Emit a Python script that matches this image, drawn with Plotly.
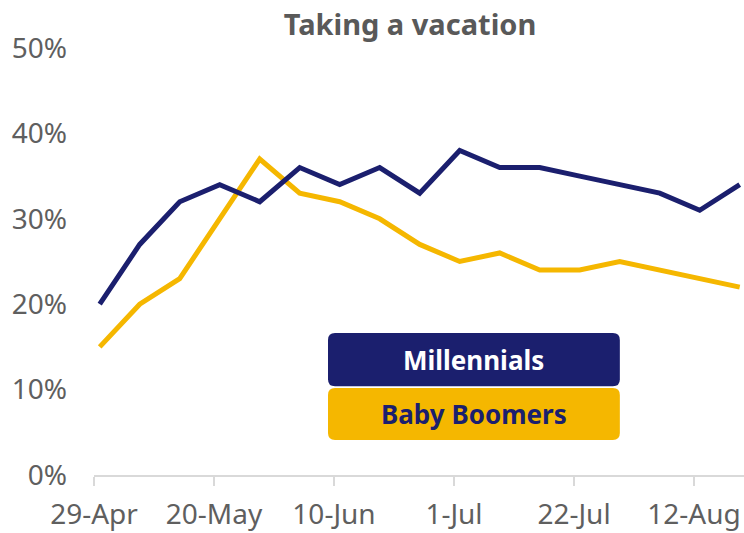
import plotly.graph_objects as go

dates = ["2020-04-30", "2020-05-07", "2020-05-14", "2020-05-21", "2020-05-28", "2020-06-04",
         "2020-06-11", "2020-06-18", "2020-06-25", "2020-07-02", "2020-07-09", "2020-07-16",
         "2020-07-23", "2020-07-30", "2020-08-06", "2020-08-13", "2020-08-20"]
millennials = [20, 27, 32, 34, 32, 36, 34, 36, 33, 38, 36, 36, 35, 34, 33, 31, 34]
boomers = [15, 20, 23, 30, 37, 33, 32, 30, 27, 25, 26, 24, 24, 25, 24, 23, 22]
tick_dates = ["2020-04-29", "2020-05-20", "2020-06-10", "2020-07-01", "2020-07-22", "2020-08-12"]
tick_labels = ["29-Apr", "20-May", "10-Jun", "1-Jul", "22-Jul", "12-Aug"]
y_ticks = [0, 10, 20, 30, 40, 50]
y_labels = [f"{v}%" for v in y_ticks]

NAVY = "#1b1f6e"
GOLD = "#f5b700"
GRAY = "#595959"
FONT = "Noto Sans"

fig = go.Figure()
fig.add_trace(go.Scatter(x=dates, y=boomers, mode="lines", name="Baby Boomers",
                         line=dict(color=GOLD, width=5), cliponaxis=False))
fig.add_trace(go.Scatter(x=dates, y=millennials, mode="lines", name="Millennials",
                         line=dict(color=NAVY, width=5), cliponaxis=False))


def rounded(x0, y0, x1, y1, rx, ry):
    return (f"M {x0+rx} {y0} L {x1-rx} {y0} Q {x1} {y0} {x1} {y0+ry} "
            f"L {x1} {y1-ry} Q {x1} {y1} {x1-rx} {y1} L {x0+rx} {y1} "
            f"Q {x0} {y1} {x0} {y1-ry} L {x0} {y0+ry} Q {x0} {y0} {x0+rx} {y0} Z")


rx, ry = 7 / 650, 7 / 427
fig.add_shape(type="path", xref="paper", yref="paper",
              path=rounded(0.36, 0.208, 0.809, 0.3326, rx, ry),
              fillcolor=NAVY, line=dict(width=0))
fig.add_shape(type="path", xref="paper", yref="paper",
              path=rounded(0.36, 0.082, 0.809, 0.2037, rx, ry),
              fillcolor=GOLD, line=dict(width=0))
fig.add_annotation(x=0.5845, y=0.2703, xref="paper", yref="paper", showarrow=False,
                   xanchor="center", yanchor="middle",
                   text="<b>Millennials</b>", font=dict(family=FONT, size=26, color="white"))
fig.add_annotation(x=0.5845, y=0.1429, xref="paper", yref="paper", showarrow=False,
                   xanchor="center", yanchor="middle",
                   text="<b>Baby Boomers</b>", font=dict(family=FONT, size=26, color=NAVY))

fig.update_layout(
    width=744, height=533,
    margin=dict(l=94, r=0, t=48, b=58),
    paper_bgcolor="white", plot_bgcolor="white",
    showlegend=False,
    font=dict(family=FONT, color=GRAY),
    title=dict(text="<b>Taking a vacation</b>", x=410 / 744, xanchor="center",
               y=1 - 25 / 533, yanchor="middle", yref="container",
               font=dict(family=FONT, size=29, color=GRAY)),
    xaxis=dict(range=["2020-04-29", "2020-08-20 18:00"], tickvals=tick_dates, ticktext=tick_labels,
               showgrid=False, zeroline=False, showline=True, linecolor="#d9d9d9", linewidth=2,
               ticks="outside", ticklen=9, tickcolor="#d9d9d9", tickwidth=2,
               ticklabelstandoff=4,
               tickfont=dict(family=FONT, size=28, color="#5f5f5f")),
    yaxis=dict(range=[0, 50], tickvals=y_ticks, ticktext=y_labels, showgrid=False, zeroline=False,
               showline=False, ticklabelstandoff=26,
               tickfont=dict(family=FONT, size=28, color="#5f5f5f")),
)

fig.write_html("out.html", config={"displayModeBar": False},
               post_script="document.body.style.margin='0';")
